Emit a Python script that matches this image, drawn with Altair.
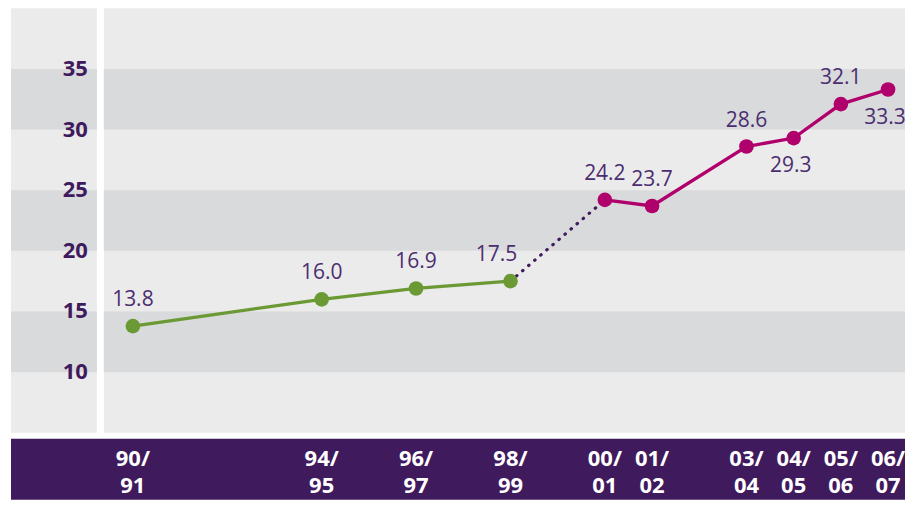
import altair as alt
import pandas as pd

# ---- data ----
periods = ["90/91", "94/95", "96/97", "98/99", "00/01", "01/02", "03/04", "04/05", "05/06", "06/07"]
years = [1990, 1994, 1996, 1998, 2000, 2001, 2003, 2004, 2005, 2006]
values = [13.8, 16.0, 16.9, 17.5, 24.2, 23.7, 28.6, 29.3, 32.1, 33.3]
series = ["old", "old", "old", "old", "new", "new", "new", "new", "new", "new"]
y_ticks = [10, 15, 20, 25, 30, 35]
band_lo = [10, 20, 30]
band_hi = [15, 25, 35]

df = pd.DataFrame({"period": periods, "year": years, "value": values, "series": series})
df["label"] = df["value"].map(lambda v: f"{v:.1f}")
df["xlab"] = df["period"].str.replace("/", "/\n")
bands = pd.DataFrame({"lo": band_lo, "hi": band_hi})
ticks = pd.DataFrame({"t": y_ticks})
bridge = df[df["period"].isin(["98/99", "00/01"])]

PURPLE = "#3f1a5d"
LABEL = "#4b2d70"
GREEN = "#6b9a35"
MAGENTA = "#b0006c"
LIGHT = "#ebebeb"
DARK = "#d9dadc"
FONT = "Open Sans"

H = 425
MAIN_W = 802
YPANEL_W = 86
BOTTOM_W = 895
BOTTOM_H = 61

y_scale = alt.Scale(domain=[5, 40], nice=False, zero=False)
x_main = alt.Scale(domain=[1989.386, 2006.359], nice=False, zero=False)
x_bottom = alt.Scale(domain=[1987.418, 2006.359], nice=False, zero=False)

band_layer = alt.Chart(bands).mark_rect(color=DARK).encode(
    y=alt.Y("lo:Q", scale=y_scale, axis=None),
    y2="hi:Q",
)

# ---- y axis panel ----
ypanel = alt.layer(
    band_layer,
    alt.Chart(ticks).mark_text(
        align="right", baseline="middle", font=FONT, fontSize=22, fontWeight="bold", color=PURPLE
    ).encode(
        y=alt.Y("t:Q", scale=y_scale, axis=None),
        x=alt.value(YPANEL_W - 9),
        text="t:Q",
    ),
).properties(width=YPANEL_W, height=H, view=alt.ViewBackground(fill=LIGHT, stroke=None))

# ---- main panel ----
base = alt.Chart(df).encode(
    x=alt.X("year:Q", scale=x_main, axis=None),
    y=alt.Y("value:Q", scale=y_scale, axis=None),
)

green_line = base.transform_filter("datum.series == 'old'").mark_line(color=GREEN, strokeWidth=3.3)
green_pts = base.transform_filter("datum.series == 'old'").mark_circle(color=GREEN, size=215, opacity=1)
mag_line = base.transform_filter("datum.series == 'new'").mark_line(color=MAGENTA, strokeWidth=3.3)
mag_pts = base.transform_filter("datum.series == 'new'").mark_circle(color=MAGENTA, size=215, opacity=1)
dotted = alt.Chart(bridge).mark_line(
    color=PURPLE, strokeWidth=3.2, strokeDash=[0.5, 7.5], strokeCap="round"
).encode(
    x=alt.X("year:Q", scale=x_main, axis=None),
    y=alt.Y("value:Q", scale=y_scale, axis=None),
)

txt = dict(font=FONT, fontSize=21, color=LABEL, baseline="middle", align="center")
lab_above = base.transform_filter(
    "indexof(['04/05','06/07','98/99'], datum.period) < 0"
).mark_text(dy=-26, **txt).encode(text="label:N")
lab_left = base.transform_filter("datum.period == '98/99'").mark_text(dx=-14, dy=-26, **txt).encode(text="label:N")
lab_below = base.transform_filter(
    "indexof(['04/05','06/07'], datum.period) >= 0"
).mark_text(dx=-3, dy=28, **txt).encode(text="label:N")

main = alt.layer(
    band_layer, dotted, green_line, mag_line, green_pts, mag_pts, lab_above, lab_left, lab_below
).properties(width=MAIN_W, height=H, view=alt.ViewBackground(fill=LIGHT, stroke=None))

# ---- bottom x-axis bar ----
bottom = alt.Chart(df).mark_text(
    font=FONT, fontSize=22, fontWeight="bold", color="white", lineBreak="\n",
    lineHeight=27, baseline="middle", align="center", dy=-10
).encode(
    x=alt.X("year:Q", scale=x_bottom, axis=None),
    y=alt.value(BOTTOM_H / 2),
    text="xlab:N",
).properties(width=BOTTOM_W, height=BOTTOM_H, view=alt.ViewBackground(fill=PURPLE, stroke=None))

top = alt.hconcat(ypanel, main, spacing=7).resolve_scale(y="shared")

chart = alt.vconcat(top, bottom, spacing=6).properties(
    padding={"left": 3, "top": 0, "right": 0, "bottom": 0}, background="white"
).configure_view(stroke=None)

chart.save("out.html", embed_options={"renderer": "svg", "actions": False})
